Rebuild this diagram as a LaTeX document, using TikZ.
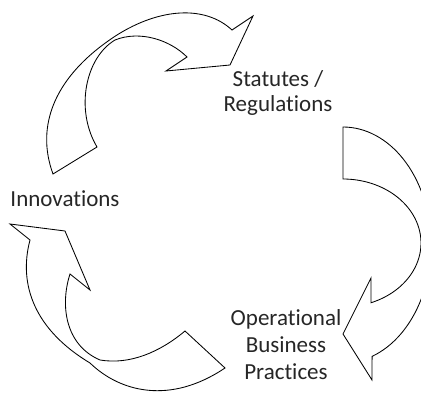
\documentclass[tikz,border=0pt]{standalone}
\usepackage{fontspec}
\setmainfont{Carlito}[Ligatures=NoCommon]
\begin{document}
\begin{tikzpicture}[x=1pt,y=-1pt,
  ribbon/.style={draw=black,line width=0.85pt,line join=miter},
  lbl/.style={inner sep=0pt,anchor=base,align=center,text=black!85}]
\useasboundingbox (0,0) rectangle (421,393);
\clip (0,0) rectangle (421,393);
% arrow 1: Innovations -> Statutes
\draw[ribbon] (53,174) .. controls (35,125) and (55,75) .. (117,35)
  .. controls (160,8) and (205,5) .. (232,30)
  -- (253,16) -- (230,65) -- (166,71) -- (187,57)
  .. controls (170,40) and (140,30) .. (115,40)
  .. controls (85,58) and (75,110) .. (97,147) -- cycle;
% arrow 2: Statutes -> Operational
\draw[ribbon] plot[domain=90:-70.7,samples=60,variable=\t] ({343+88*cos(\t)},{245-118*sin(\t)})
  -- (372,380) -- (343,334) -- (371,278) --
  plot[domain=-69:90,samples=60,variable=\t] ({343+78*cos(\t)},{243-64*sin(\t)}) -- cycle;
% arrow 3: Operational -> Innovations
\draw[ribbon] (30,240) .. controls (18,285) and (35,330) .. (90,363)
  .. controls (120,392) and (170,405) .. (225,368)
  -- (185,331) .. controls (160,352) and (130,365) .. (100,360)
  .. controls (65,345) and (60,305) .. (70,274)
  -- (90,290) -- (65,231) -- (10,224) -- cycle;
\node[lbl,font=\fontsize{23}{25}\selectfont] (stat) at (278,112) {Statutes /\\Regulations};
\node[lbl,font=\fontsize{23}{26}\selectfont] (inno) at (65,207) {Innovations};
\node[lbl,font=\fontsize{23}{27}\selectfont] (oper) at (286,379) {Operational\\Business\\Practices};
\end{tikzpicture}
\end{document}
